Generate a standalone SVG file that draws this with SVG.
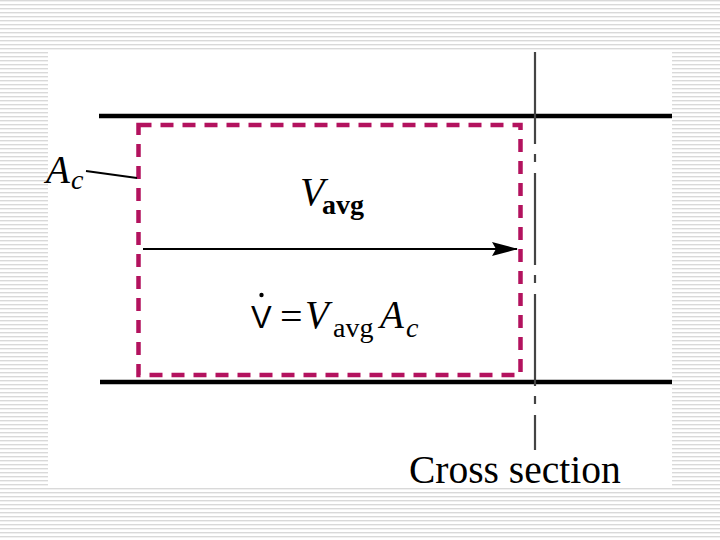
<svg xmlns="http://www.w3.org/2000/svg" width="720" height="540" viewBox="0 0 720 540">
<defs>
<pattern id="stripes" x="0" y="0" width="8" height="4" patternUnits="userSpaceOnUse">
<rect x="0" y="0" width="8" height="1.4" fill="#d9d9d9"/>
</pattern>
<marker id="arrowhead" markerWidth="26" markerHeight="14" refX="25" refY="7" orient="auto" markerUnits="userSpaceOnUse">
<path d="M0,0 L26,7 L0,14 L4,7 Z" fill="#000"/>
</marker>
</defs>
<style>
.pipe{stroke:#000;stroke-width:4.5;fill:none}
.cv{stroke:#b3125e;stroke-width:4.5;fill:none;stroke-dasharray:13 9}
.sec{stroke:#444;stroke-width:2.2;fill:none;stroke-dasharray:92 10 8 11}
.serif{font-family:"Liberation Serif","Times New Roman",serif;fill:#000}
.it{font-style:italic}
.b{font-weight:bold}
</style>
<rect x="0" y="0" width="720" height="540" fill="#fff"/>
<rect x="0" y="0" width="720" height="540" fill="url(#stripes)"/>
<rect x="48" y="52" width="624" height="436" fill="#fff"/>
<g id="pipe">
<line class="pipe" x1="99" y1="116" x2="672" y2="116"/>
<line class="pipe" x1="100" y1="382" x2="672" y2="382"/>
</g>
<g id="control-volume">
<rect class="cv" x="138.5" y="125" width="382" height="250"/>
</g>
<g id="connectors">
<line x1="143" y1="249" x2="517" y2="249" stroke="#000" stroke-width="2" marker-end="url(#arrowhead)"/>
<line x1="86" y1="171" x2="137" y2="178" stroke="#000" stroke-width="2"/>
<line class="sec" x1="535" y1="52" x2="535" y2="450"/>
</g>
<g id="label-Ac">
<text class="serif it" x="46" y="183" font-size="39">A</text>
<text class="serif it" x="71" y="189" font-size="28">c</text>
</g>
<g id="label-Vavg">
<text class="serif it" x="300" y="205" font-size="40">V</text>
<text class="serif b" x="322" y="214" font-size="28">avg</text>
</g>
<g id="label-formula">
<text font-family="'Liberation Sans',Arial,sans-serif" font-size="31" x="251" y="328" fill="#000" font-weight="300">V</text>
<circle cx="261.5" cy="295" r="2.2" fill="#000"/>
<text class="serif" x="280" y="330" font-size="40">=</text>
<text class="serif it" x="305" y="328" font-size="39">V</text>
<text class="serif" x="333" y="337" font-size="28">avg</text>
<text class="serif it" x="380" y="328" font-size="39">A</text>
<text class="serif it" x="406" y="337" font-size="28">c</text>
</g>
<g id="label-cross-section">
<text class="serif" x="409" y="483" font-size="39.5">Cross section</text>
</g>
</svg>
